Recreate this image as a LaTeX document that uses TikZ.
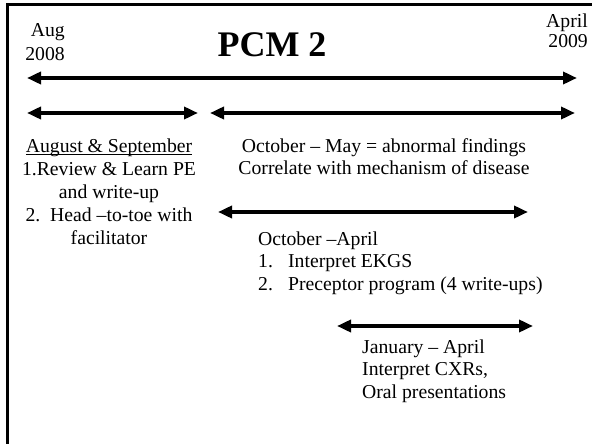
\documentclass[tikz,border=0pt]{standalone}
\usepackage{fontspec}
\setmainfont{Liberation Serif}
\usetikzlibrary{arrows.meta, positioning}
\newcommand{\slidefont}[1][22.5]{\fontsize{19.7}{#1}\selectfont}

\begin{document}
\begin{tikzpicture}[x=1pt, y=-1pt,
			lbl/.style={font=\slidefont, inner sep=0pt},
			span/.style={{Triangle[length=14pt,width=12pt]}-{Triangle[length=14pt,width=12pt]}, line width=4pt},
			frame/.style={line width=3pt}]
			\useasboundingbox (0,0) rectangle (592,444);
			% slide frame (only top and left edge show)
			\draw[frame] (7.5,444) -- (7.5,5) -- (592,5);
			% headings
			\node[lbl, font={\fontsize{36}{40}\selectfont\bfseries}, anchor=base] (title) at (272,57) {PCM 2};
			\node[lbl, anchor=north east, align=right, font={\slidefont[24]}] (aug) at (65,23.5) {Aug\\2008};
			\node[lbl, anchor=north east, align=right, font={\slidefont[20]}] (apr) at (588,13.5) {April\\2009};
			% arrow ends
			\coordinate (yearL) at (27,78);
			\coordinate (yearR) at (577,78);
			\coordinate (augL) at (27,113);
			\coordinate (augR) at (198,113);
			\coordinate (octL) at (210,113);
			\coordinate (octR) at (575,113);
			\coordinate (ekgL) at (218,212);
			\coordinate (ekgR) at (528,212);
			\coordinate (cxrL) at (337,326);
			\coordinate (cxrR) at (533,326);
			\draw[span] (yearL) -- (yearR);
			\draw[span] (augL) -- (augR);
			\draw[span] (octL) -- (octR);
			\draw[span] (ekgL) -- (ekgR);
			\draw[span] (cxrL) -- (cxrR);
			% blocks
			\node[lbl, anchor=north, align=center, font={\slidefont[23]}] (augsep) at (109,138.5)
				{\underline{\raisebox{0pt}[\height][0pt]{August \& September}}\\1.Review \& Learn PE\\and write-up\\2.\ \ Head --to-toe with\\facilitator};
			\node[lbl, anchor=north, align=center, font={\slidefont[21.5]}] (octmay) at (384,138.5)
				{October -- May = abnormal findings\\Correlate with mechanism of disease};
			\node[lbl, anchor=north west, align=left] (octapr) at (258,231.5)
				{October --April\\\makebox[30pt][l]{1.}Interpret EKGS\\\makebox[30pt][l]{2.}Preceptor program (4 write-ups)};
			\node[lbl, anchor=north west, align=left] (janapr) at (362,339.5)
				{January -- April\\Interpret CXRs,\\Oral presentations};
		\end{tikzpicture}
\end{document}
